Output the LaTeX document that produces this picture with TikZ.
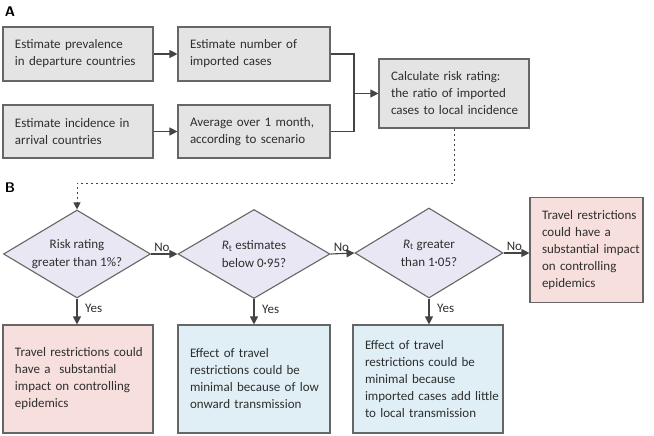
\documentclass[tikz,border=0pt]{standalone}
\usepackage{fontspec}
\setmainfont{Carlito}
\usetikzlibrary{shapes.geometric,arrows.meta}
\definecolor{boxgray}{HTML}{E4E4E5}
\definecolor{edgegray}{HTML}{666666}
\definecolor{lav}{HTML}{E9E7F4}
\definecolor{pinkbox}{HTML}{F7DFDD}
\definecolor{bluebox}{HTML}{DFEFF5}
\definecolor{txt}{HTML}{2E2E2E}
\definecolor{linec}{HTML}{444444}
\tikzset{
  every node/.style={text=txt,font=\fontsize{13}{17}\selectfont},
  rbox/.style={draw=edgegray,line width=1.1pt,rectangle,inner sep=0pt,align=left,
    execute at begin node={\hyphenpenalty=10000\exhyphenpenalty=10000\leftskip=12pt\rightskip=-40pt plus 1fil\relax}},
  graybox/.style={rbox,fill=boxgray},
  pinkb/.style={rbox,fill=pinkbox},
  blueb/.style={rbox,fill=bluebox},
  dia/.style={draw=edgegray,line width=1.1pt,diamond,fill=lav,inner sep=0pt},
  diatext/.style={align=center,inner sep=0pt,font=\fontsize{13}{18}\selectfont},
  conn/.style={draw=linec,line width=1.1pt,-{Triangle[length=8pt,width=8pt]}},
  plain/.style={draw=linec,line width=1.1pt},
  dotc/.style={draw=linec,line width=1pt,dash pattern=on 2.6pt off 2.4pt},
  lab/.style={font=\fontsize{13}{14}\selectfont,inner sep=0pt},
  panel/.style={font=\sffamily\bfseries\fontsize{14}{16}\selectfont,text=black}
}
\newcommand{\Rt}{\textit{R}\textsubscript{t}}
\begin{document}
\begin{tikzpicture}[x=1pt,y=-1pt]
\useasboundingbox (0,0) rectangle (654,436);
\fill[white] (0,0) rectangle (654,436);
\node[panel] (pA) at (10,12) {A};
\node[panel] (pB) at (10,188) {B};
% Panel A
\node[graybox,minimum width=150pt,minimum height=54pt,text width=150pt] (a1) at (78,54) {Estimate prevalence\\in departure countries};
\node[graybox,minimum width=152pt,minimum height=54pt,text width=152pt] (a2) at (254,54) {Estimate number of\\imported cases};
\node[graybox,minimum width=150pt,minimum height=53pt,text width=150pt] (a3) at (78,131.5) {Estimate incidence in\\arrival countries};
\node[graybox,minimum width=152pt,minimum height=53pt,text width=152pt] (a4) at (254,131.5) {Average over 1 month,\\according to scenario};
\node[graybox,minimum width=150pt,minimum height=69pt,text width=150pt] (c) at (454,93.5) {Calculate risk rating:\\the ratio of imported\\cases to local incidence};
\draw[conn] (a1) -- (a2);
\draw[conn] (a3) -- (a4);
\coordinate (jt) at (354,54);
\coordinate (jb) at (354,131.5);
\coordinate (jm) at (354,93.5);
\draw[plain] (a2.east) -- (jt) -- (jb) -- (a4.east);
\draw[conn] (jm) -- (c.west);
% Panel B
\node[dia,minimum width=147pt,minimum height=88pt] (d1) at (77,254) {};
\node[dia,minimum width=152pt,minimum height=89pt] (d2) at (254,254) {};
\node[dia,minimum width=148pt,minimum height=90pt] (d3) at (429,253) {};
\node[diatext] (t1) at (d1) {Risk rating\\greater than 1\%?};
\node[diatext] (t2) at (d2) {\Rt\ estimates\\below 0·95?};
\node[diatext] (t3) at (d3) {\Rt\ greater\\than 1·05?};
\node[pinkb,minimum width=113pt,minimum height=105pt,text width=113pt,
  execute at begin node={\leftskip=12pt\relax}] (e) at (586.5,250) {Travel restrictions\\could have a\\substantial impact\\on controlling\\epidemics};
\node[pinkb,minimum width=150pt,minimum height=108pt,text width=150pt] (b1) at (78,379) {Travel restrictions could\\have a\ \ substantial\\impact on controlling\\epidemics};
\node[blueb,minimum width=152pt,minimum height=108pt,text width=152pt] (b2) at (254,379) {Effect of travel\\restrictions could be\\minimal because of low\\onward transmission};
\node[blueb,minimum width=150pt,minimum height=108pt,text width=150pt] (b3) at (428,379) {Effect of travel\\restrictions could be\\minimal because\\imported cases add little\\to local transmission};
\coordinate (dl) at (454,183);
\draw[dotc,-{Triangle[length=7pt,width=7pt]}] (c.south) -- (dl) -| (d1.north);
\draw[conn] (d1.east) -- (d2.west);
\draw[conn] (d2.east) -- (d3.west);
\draw[conn] (d3.east) -- (d3.east -| e.west);
\draw[conn] (d1.south) -- (d1.south |- b1.north);
\draw[conn] (d2.south) -- (d2.south |- b2.north);
\draw[conn] (d3.south) -- (d3.south |- b3.north);
\node[lab,anchor=south west] (n1) at ([xshift=3pt,yshift=2pt]d1.east) {No};
\node[lab,anchor=south west] (n2) at ([xshift=3pt,yshift=2pt]d2.east) {No};
\node[lab,anchor=south west] (n3) at ([xshift=3pt,yshift=2pt]d3.east) {No};
\node[lab,anchor=west] (y1) at ([xshift=8pt,yshift=-10pt]d1.south) {Yes};
\node[lab,anchor=west] (y2) at ([xshift=8pt,yshift=-10pt]d2.south) {Yes};
\node[lab,anchor=west] (y3) at ([xshift=8pt,yshift=-10pt]d3.south) {Yes};
\end{tikzpicture}
\end{document}
